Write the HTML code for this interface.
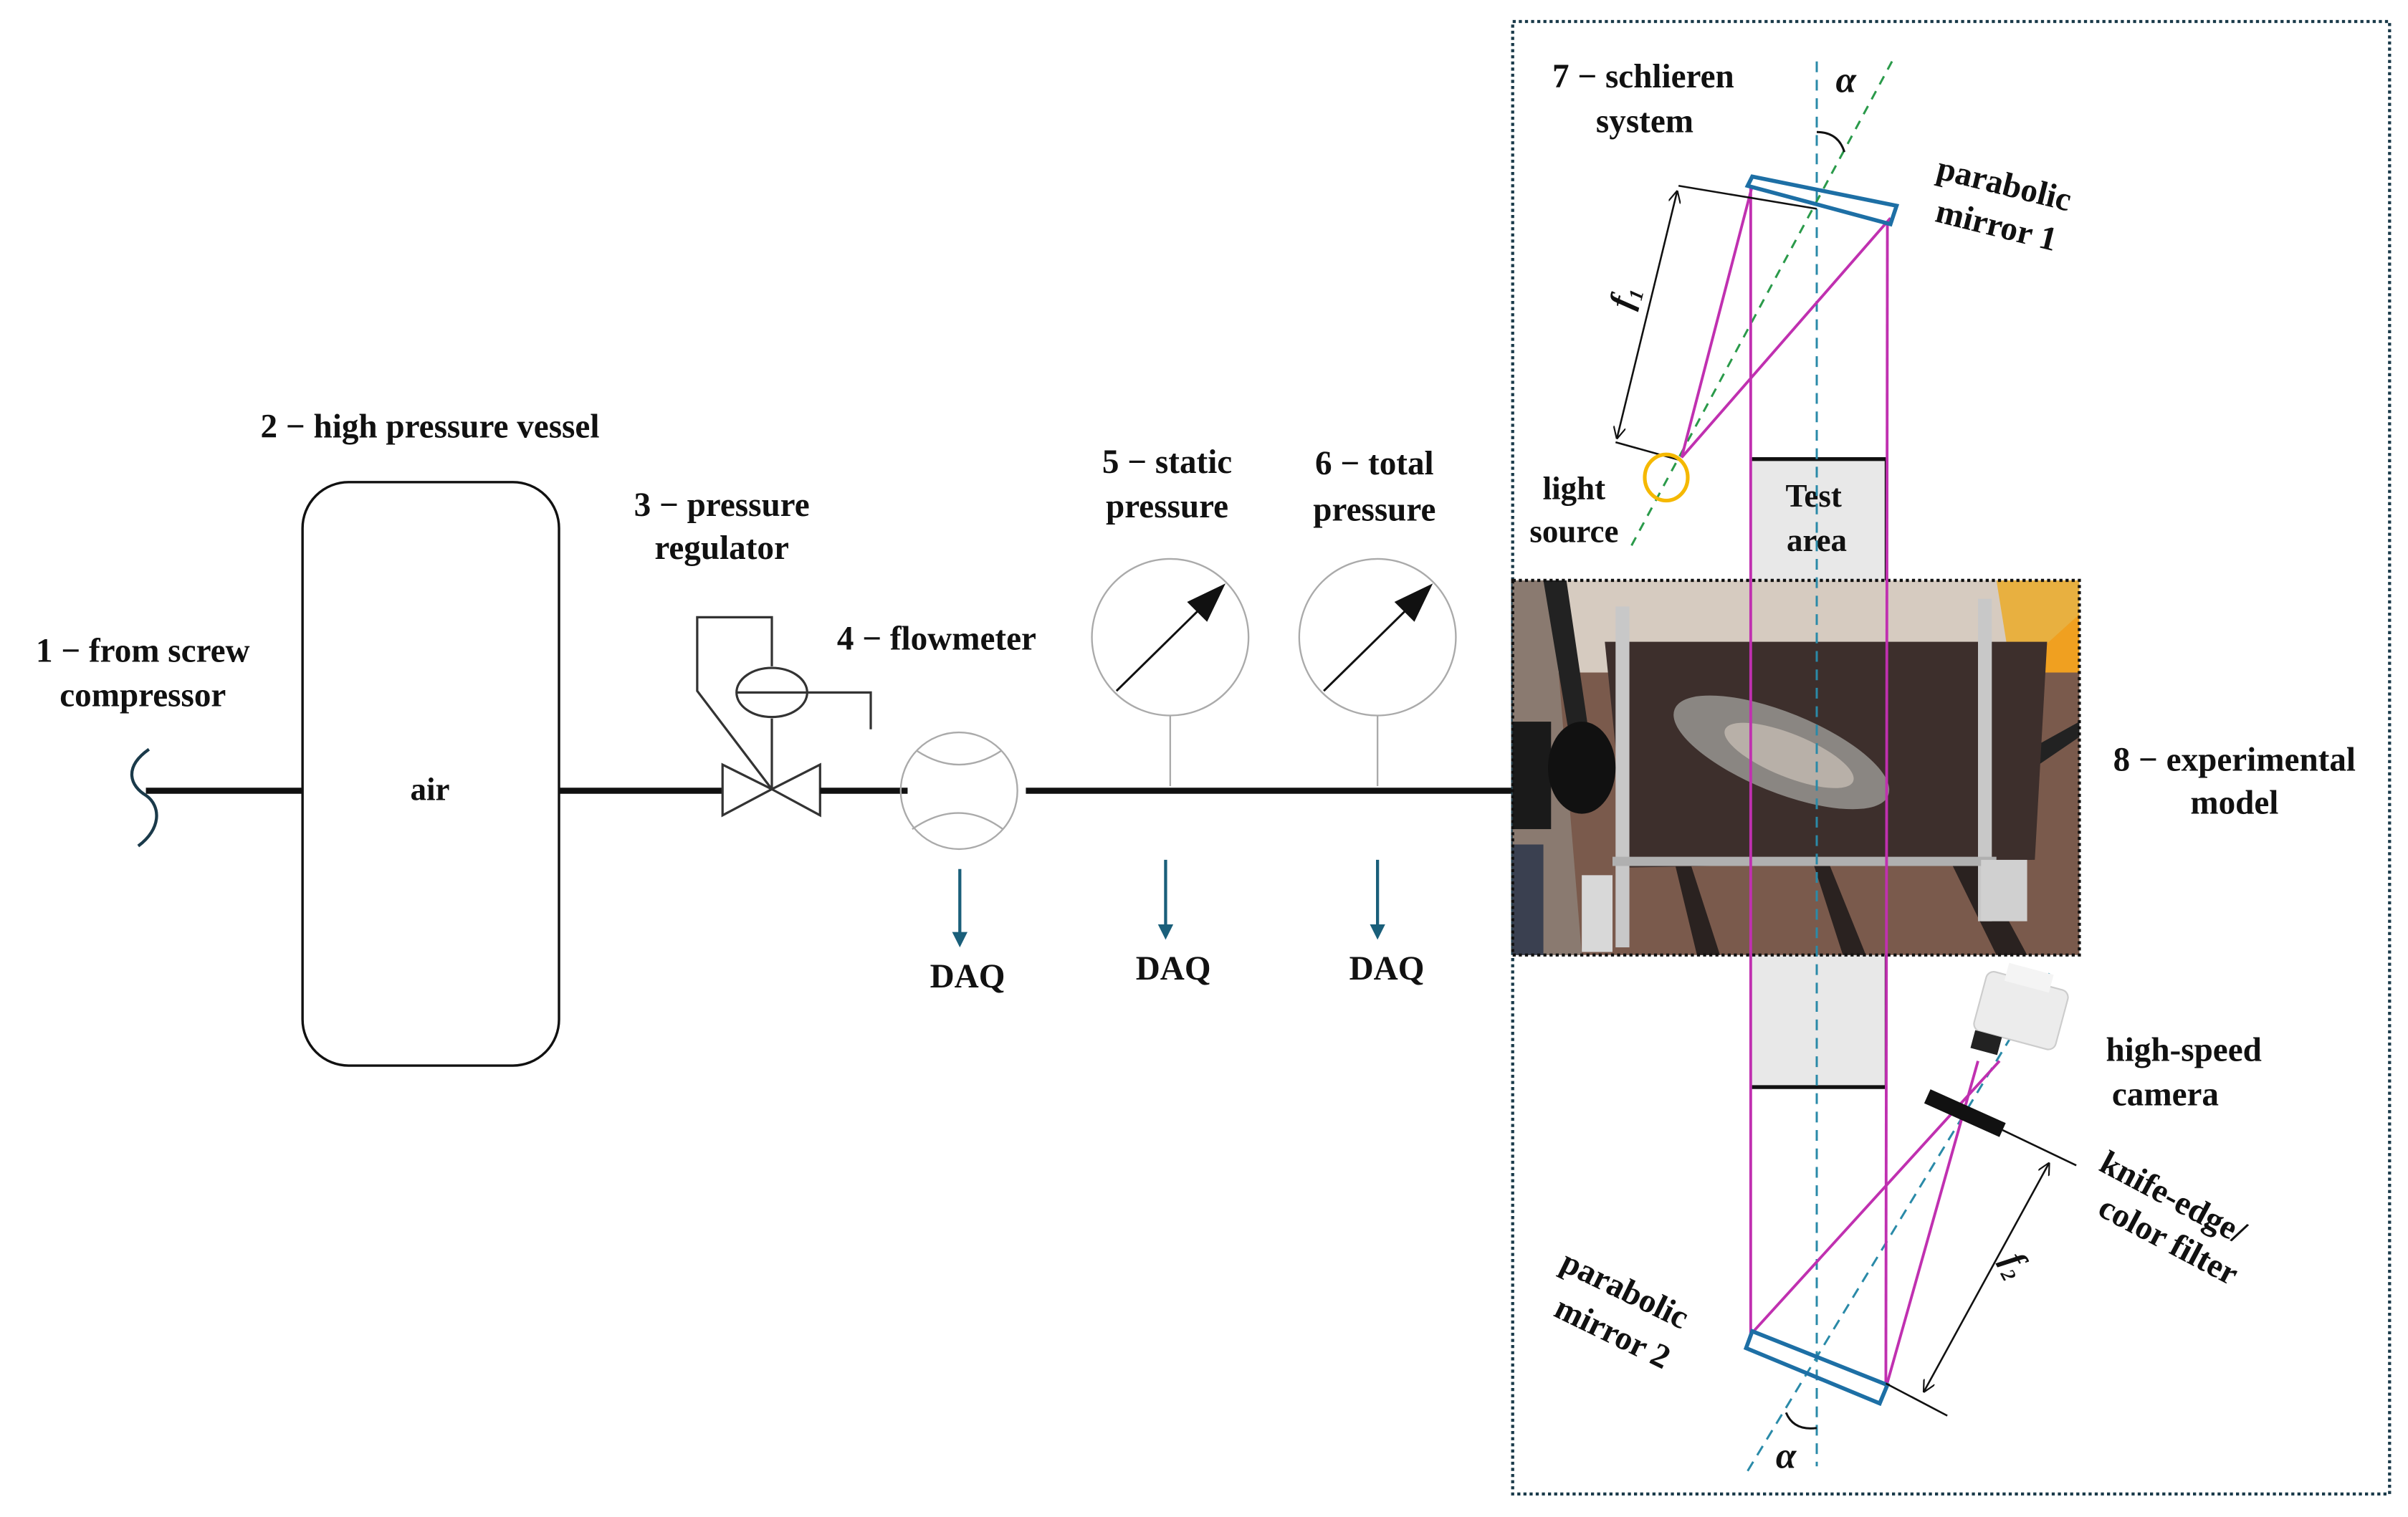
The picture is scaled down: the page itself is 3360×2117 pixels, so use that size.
<!DOCTYPE html>
<html><head><meta charset="utf-8"><style>
html,body{margin:0;padding:0;background:#fff;}
svg{display:block}
text{font-family:"Liberation Serif",serif;font-weight:bold;fill:#111;}
</style></head><body>
<svg width="3360" height="2117" viewBox="0 0 1568 988" preserveAspectRatio="none" xmlns="http://www.w3.org/2000/svg">
<defs>
<marker id="ah" markerWidth="8" markerHeight="8" refX="7" refY="4" orient="auto" markerUnits="userSpaceOnUse"><path d="M0,0 L8,4 L0,8" fill="none" stroke="#111" stroke-width="1"/></marker>
<marker id="ahs" markerWidth="8" markerHeight="8" refX="1" refY="4" orient="auto" markerUnits="userSpaceOnUse"><path d="M8,0 L0,4 L8,8" fill="none" stroke="#111" stroke-width="1"/></marker>
<marker id="da" markerWidth="10" markerHeight="10" refX="8" refY="5" orient="auto" markerUnits="userSpaceOnUse"><path d="M0,0 L10,5 L0,10 Z" fill="#1a5f7a"/></marker>
</defs>

<!-- left labels -->
<text x="93" y="431" font-size="22" text-anchor="middle">1 − from screw</text>
<text x="93" y="460" font-size="22" text-anchor="middle">compressor</text>
<path d="M97,488 C80,500 85,512 95,518 C105,525 105,540 90,551" fill="none" stroke="#1a3a4a" stroke-width="2"/>
<line x1="95" y1="515" x2="197" y2="515" stroke="#111" stroke-width="4"/>

<text x="280" y="285" font-size="22" text-anchor="middle">2 − high pressure vessel</text>
<rect x="197" y="314" width="167" height="380" rx="30" fill="#fff" stroke="#111" stroke-width="1.6"/>
<text x="280" y="521" font-size="21" text-anchor="middle">air</text>
<line x1="364" y1="515" x2="471" y2="515" stroke="#111" stroke-width="4"/>

<!-- regulator -->
<text x="470" y="336" font-size="22" text-anchor="middle">3 − pressure</text>
<text x="470" y="364" font-size="22" text-anchor="middle">regulator</text>
<g fill="none" stroke="#333" stroke-width="1.5">
<path d="M470.5,498 L470.5,531 L502.6,514 Z"/>
<path d="M534,498 L534,531 L502.6,514 Z"/>
<path d="M502.6,434 L502.6,402 L454,402 L454,450 L502.6,514"/>
<line x1="502.6" y1="468" x2="502.6" y2="514"/>
<ellipse cx="502.6" cy="451" rx="23" ry="16"/>
<path d="M479.6,451 L567,451 L567,475"/>
</g>
<line x1="534" y1="515" x2="591" y2="515" stroke="#111" stroke-width="4"/>

<!-- flowmeter -->
<text x="545" y="423" font-size="22">4 − flowmeter</text>
<g fill="none" stroke="#aaa" stroke-width="1.1">
<circle cx="624.5" cy="515" r="38"/>
<path d="M597,489 Q624.5,507 652,489"/>
<path d="M594,540 Q624.5,519 653,540"/>
</g>
<line x1="668" y1="515" x2="985" y2="515" stroke="#111" stroke-width="4"/>
<line x1="625" y1="566" x2="625" y2="615" stroke="#1a5f7a" stroke-width="2" marker-end="url(#da)"/>
<text x="630" y="643" font-size="22" text-anchor="middle">DAQ</text>

<!-- gauges -->
<text x="760" y="308" font-size="22" text-anchor="middle">5 − static</text>
<text x="760" y="337" font-size="22" text-anchor="middle">pressure</text>
<circle cx="762" cy="415" r="51" fill="none" stroke="#aaa" stroke-width="1.1"/>
<line x1="762" y1="466" x2="762" y2="512" stroke="#aaa" stroke-width="1.1"/>
<line x1="727" y1="450" x2="785" y2="393" stroke="#111" stroke-width="1.4"/>
<path d="M798,380 L773,392 L786,405 Z" fill="#111"/>
<line x1="759" y1="560" x2="759" y2="610" stroke="#1a5f7a" stroke-width="2" marker-end="url(#da)"/>
<text x="764" y="638" font-size="22" text-anchor="middle">DAQ</text>

<text x="895" y="309" font-size="22" text-anchor="middle">6 − total</text>
<text x="895" y="339" font-size="22" text-anchor="middle">pressure</text>
<circle cx="897" cy="415" r="51" fill="none" stroke="#aaa" stroke-width="1.1"/>
<line x1="897" y1="466" x2="897" y2="512" stroke="#aaa" stroke-width="1.1"/>
<line x1="862" y1="450" x2="920" y2="393" stroke="#111" stroke-width="1.4"/>
<path d="M933,380 L908,392 L921,405 Z" fill="#111"/>
<line x1="897" y1="560" x2="897" y2="610" stroke="#1a5f7a" stroke-width="2" marker-end="url(#da)"/>
<text x="903" y="638" font-size="22" text-anchor="middle">DAQ</text>

<!-- big dotted box -->
<rect x="985" y="14" width="571" height="959" fill="none" stroke="#1a3a4a" stroke-width="2" stroke-dasharray="2,2"/>

<!-- test areas -->
<rect x="1140" y="298" width="88" height="80" fill="#e8e8e8"/>
<line x1="1140" y1="299" x2="1228" y2="299" stroke="#111" stroke-width="2.5"/>
<line x1="1228" y1="298" x2="1228" y2="378" stroke="#111" stroke-width="1.5"/>
<text x="1181" y="330" font-size="21" text-anchor="middle">Test</text>
<text x="1183" y="359" font-size="21" text-anchor="middle">area</text>
<rect x="1140" y="622" width="88" height="86" fill="#e8e8e8"/>
<line x1="1140" y1="708" x2="1228" y2="708" stroke="#111" stroke-width="2.5"/>
<line x1="1228" y1="622" x2="1228" y2="708" stroke="#111" stroke-width="1.5"/>

<!-- photo -->
<g>
<rect x="985" y="378" width="369" height="244" fill="#7a5a4c"/>
<rect x="985" y="378" width="369" height="60" fill="#d6cbc0"/>
<rect x="1310" y="378" width="44" height="60" fill="#f0a020"/>
<polygon points="1300,378 1354,378 1354,400 1310,440" fill="#e8b040"/>
<polygon points="985,378 1010,378 1030,622 985,622" fill="#8a7a70"/>
<polygon points="1005,378 1020,378 1035,480 1022,480" fill="#222"/>
<polygon points="1090,560 1100,560 1120,622 1105,622" fill="#2a2220"/>
<polygon points="1180,560 1190,560 1215,622 1200,622" fill="#2a2220"/>
<polygon points="1250,520 1265,520 1320,622 1300,622" fill="#2a2220"/>
<polygon points="1300,500 1354,470 1354,480 1310,510" fill="#222"/>
<polygon points="1045,418 1333,418 1325,560 1060,565" fill="#3d2f2c"/>
<ellipse cx="1160" cy="490" rx="75" ry="26" transform="rotate(22 1160 490)" fill="#8a8682"/>
<ellipse cx="1165" cy="492" rx="45" ry="14" transform="rotate(22 1165 492)" fill="#b8b0a8"/>
<rect x="1052" y="395" width="9" height="222" fill="#c8c8c8"/>
<rect x="1288" y="390" width="9" height="210" fill="#c8c8c8"/>
<rect x="1050" y="558" width="250" height="6" fill="#b0b0b0"/>
<rect x="985" y="470" width="25" height="70" fill="#1a1a1a"/>
<ellipse cx="1030" cy="500" rx="22" ry="30" fill="#111"/>
<rect x="985" y="550" width="20" height="72" fill="#3a4050"/>
<rect x="1030" y="570" width="20" height="50" fill="#d8d8d8"/>
<rect x="1290" y="560" width="30" height="40" fill="#d0d0d0"/>
<rect x="985" y="378" width="369" height="244" fill="none" stroke="#111" stroke-width="2" stroke-dasharray="2,2"/>
</g>

<!-- dashed axes -->
<line x1="1183" y1="40" x2="1183" y2="955" stroke="#2a8aa8" stroke-width="1.4" stroke-dasharray="7,5"/>
<line x1="1232" y1="40" x2="1062" y2="356" stroke="#2a9a4a" stroke-width="1.4" stroke-dasharray="6,5"/>
<line x1="1138" y1="958" x2="1337" y2="630" stroke="#2a8aa8" stroke-width="1.4" stroke-dasharray="7,5"/>

<!-- alpha top -->
<text x="1202" y="60" font-size="24" font-style="italic" font-weight="normal" text-anchor="middle">α</text>
<path d="M1183,86 Q1197,86 1201,99" fill="none" stroke="#111" stroke-width="1.4"/>
<!-- alpha bottom -->
<text x="1163" y="956" font-size="24" font-style="italic" font-weight="normal" text-anchor="middle">α</text>
<path d="M1163,920 Q1168,932 1183,930" fill="none" stroke="#111" stroke-width="1.4"/>

<!-- magenta rays -->
<g stroke="#c030b0" stroke-width="1.8" fill="none">
<line x1="1140" y1="121" x2="1140" y2="869"/>
<line x1="1229" y1="145" x2="1228" y2="904"/>
<line x1="1095" y1="298" x2="1141" y2="121"/>
<line x1="1095" y1="298" x2="1231" y2="142"/>
<line x1="1141" y1="868" x2="1302" y2="691"/>
<line x1="1228" y1="904" x2="1288" y2="691"/>
</g>

<!-- mirror 1 -->
<polygon points="1141,115 1235,134 1231,146 1138,121" fill="none" stroke="#1d6fa5" stroke-width="2.6"/>
<!-- mirror 2 -->
<polygon points="1141,867 1229,902 1224,914 1137,878" fill="none" stroke="#1d6fa5" stroke-width="2.6"/>

<!-- f1 dimension -->
<line x1="1093" y1="121" x2="1183" y2="136" stroke="#111" stroke-width="1.2"/>
<line x1="1052" y1="288" x2="1095" y2="300" stroke="#111" stroke-width="1.2"/>
<line x1="1092" y1="125" x2="1053" y2="285" stroke="#111" stroke-width="1.2" marker-end="url(#ah)" marker-start="url(#ahs)"/>
<text x="1058" y="200" font-size="22" font-style="italic" font-weight="normal" text-anchor="middle" transform="rotate(-76 1058 194)">f<tspan font-size="13" dy="5">1</tspan></text>

<!-- light source -->
<ellipse cx="1085" cy="311" rx="14" ry="15" fill="none" stroke="#f5b800" stroke-width="2.4"/>
<text x="1025" y="325" font-size="21" text-anchor="middle">light</text>
<text x="1025" y="353" font-size="21" text-anchor="middle">source</text>

<!-- knife edge -->
<line x1="1255" y1="714" x2="1304" y2="736" stroke="#111" stroke-width="10"/>
<line x1="1304" y1="736" x2="1352" y2="759" stroke="#111" stroke-width="1.2"/>
<line x1="1228" y1="901" x2="1268" y2="922" stroke="#111" stroke-width="1.2"/>
<line x1="1334" y1="758" x2="1253" y2="906" stroke="#111" stroke-width="1.2" marker-end="url(#ah)" marker-start="url(#ahs)"/>
<text x="1312" y="830" font-size="22" font-style="italic" font-weight="normal" text-anchor="middle" transform="rotate(62 1312 824)">f<tspan font-size="13" dy="5">2</tspan></text>

<!-- camera -->
<g transform="rotate(15 1315 660)">
<rect x="1288" y="638" width="55" height="40" rx="5" fill="#ececec" stroke="#ccc" stroke-width="1"/>
<rect x="1300" y="630" width="30" height="12" fill="#f4f4f4"/>
<rect x="1290" y="678" width="18" height="12" fill="#222"/>
</g>

<!-- right labels -->
<text x="1305" y="127" font-size="22" text-anchor="middle" transform="rotate(14 1305 120)">parabolic</text>
<text x="1300" y="154" font-size="22" text-anchor="middle" transform="rotate(14 1300 147)">mirror 1</text>
<text x="1070" y="57" font-size="22" text-anchor="middle">7 − schlieren</text>
<text x="1071" y="86" font-size="22" text-anchor="middle">system</text>
<text x="1455" y="502" font-size="22" text-anchor="middle">8 − experimental</text>
<text x="1455" y="530" font-size="22" text-anchor="middle">model</text>
<text x="1422" y="691" font-size="22" text-anchor="middle">high-speed</text>
<text x="1410" y="720" font-size="22" text-anchor="middle">camera</text>
<text x="1415" y="787" font-size="22" text-anchor="middle" transform="rotate(28 1415 780)">knife-edge/</text>
<text x="1412" y="815" font-size="22" text-anchor="middle" transform="rotate(28 1412 808)">color filter</text>
<text x="1058" y="847" font-size="22" text-anchor="middle" transform="rotate(26 1058 840)">parabolic</text>
<text x="1050" y="875" font-size="22" text-anchor="middle" transform="rotate(26 1050 868)">mirror 2</text>
</svg>
</body></html>
